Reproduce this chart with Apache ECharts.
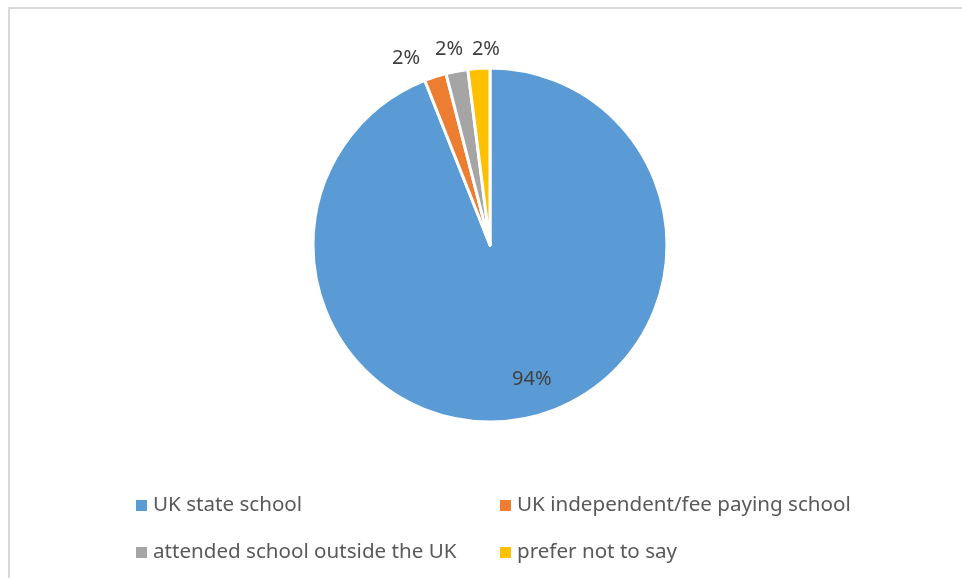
<!DOCTYPE html>
<html>
<head>
<meta charset="utf-8">
<script src="https://cdn.jsdelivr.net/npm/echarts@6/dist/echarts.min.js"></script>
<style>
html,body{margin:0;padding:0;background:#fff;}
#chart{width:962px;height:578px;}
</style>
</head>
<body>
<div id="chart"></div>
<script>
const categories = ['UK state school', 'UK independent/fee paying school', 'attended school outside the UK', 'prefer not to say'];
const values = [94, 2, 2, 2];
const colors = ['#5B9BD5', '#ED7D31', '#A5A5A5', '#FFC000'];
// per-slice label placement (style only)
const labelLen = [-40, 19, 22, 19];
const labelLen2 = [-8.6, 4.4, -15.3, -27.3];

const FONT = 'Noto Sans';
const chart = echarts.init(document.getElementById('chart'));
const data = categories.map((c, i) => ({
  name: c,
  value: values[i],
  itemStyle: { color: colors[i] },
  labelLine: { show: false, length: labelLen[i], length2: labelLen2[i] }
}));
const legendText = { fontFamily: FONT, fontSize: 20.6, color: '#595959', lineHeight: 20 };
chart.setOption({
  animation: false,
  graphic: [{
    type: 'rect',
    shape: { x: 9, y: 8, width: 1000, height: 1000 },
    style: { fill: 'none', stroke: '#d9d9d9', lineWidth: 2 },
    silent: true
  }],
  legend: [{
    data: [categories[0], categories[2]],
    orient: 'vertical',
    left: 134, top: 495, padding: 0,
    icon: 'rect', itemWidth: 13, itemHeight: 13, itemGap: 26,
    textStyle: legendText
  }, {
    data: [categories[1], categories[3]],
    orient: 'vertical',
    left: 498, top: 495, padding: 0,
    icon: 'rect', itemWidth: 13, itemHeight: 13, itemGap: 26,
    textStyle: legendText
  }],
  series: [{
    type: 'pie',
    center: [490, 245],
    radius: 177,
    startAngle: 90,
    clockwise: true,
    avoidLabelOverlap: false,
    itemStyle: { borderColor: '#fff', borderWidth: 3 },
    label: {
      show: true, position: 'outside',
      formatter: p => Math.round(p.percent) + '%',
      fontFamily: FONT, fontSize: 20, color: '#404040'
    },
    labelLine: { show: false },
    emphasis: { disabled: true },
    data: data
  }]
});
</script>
</body>
</html>
